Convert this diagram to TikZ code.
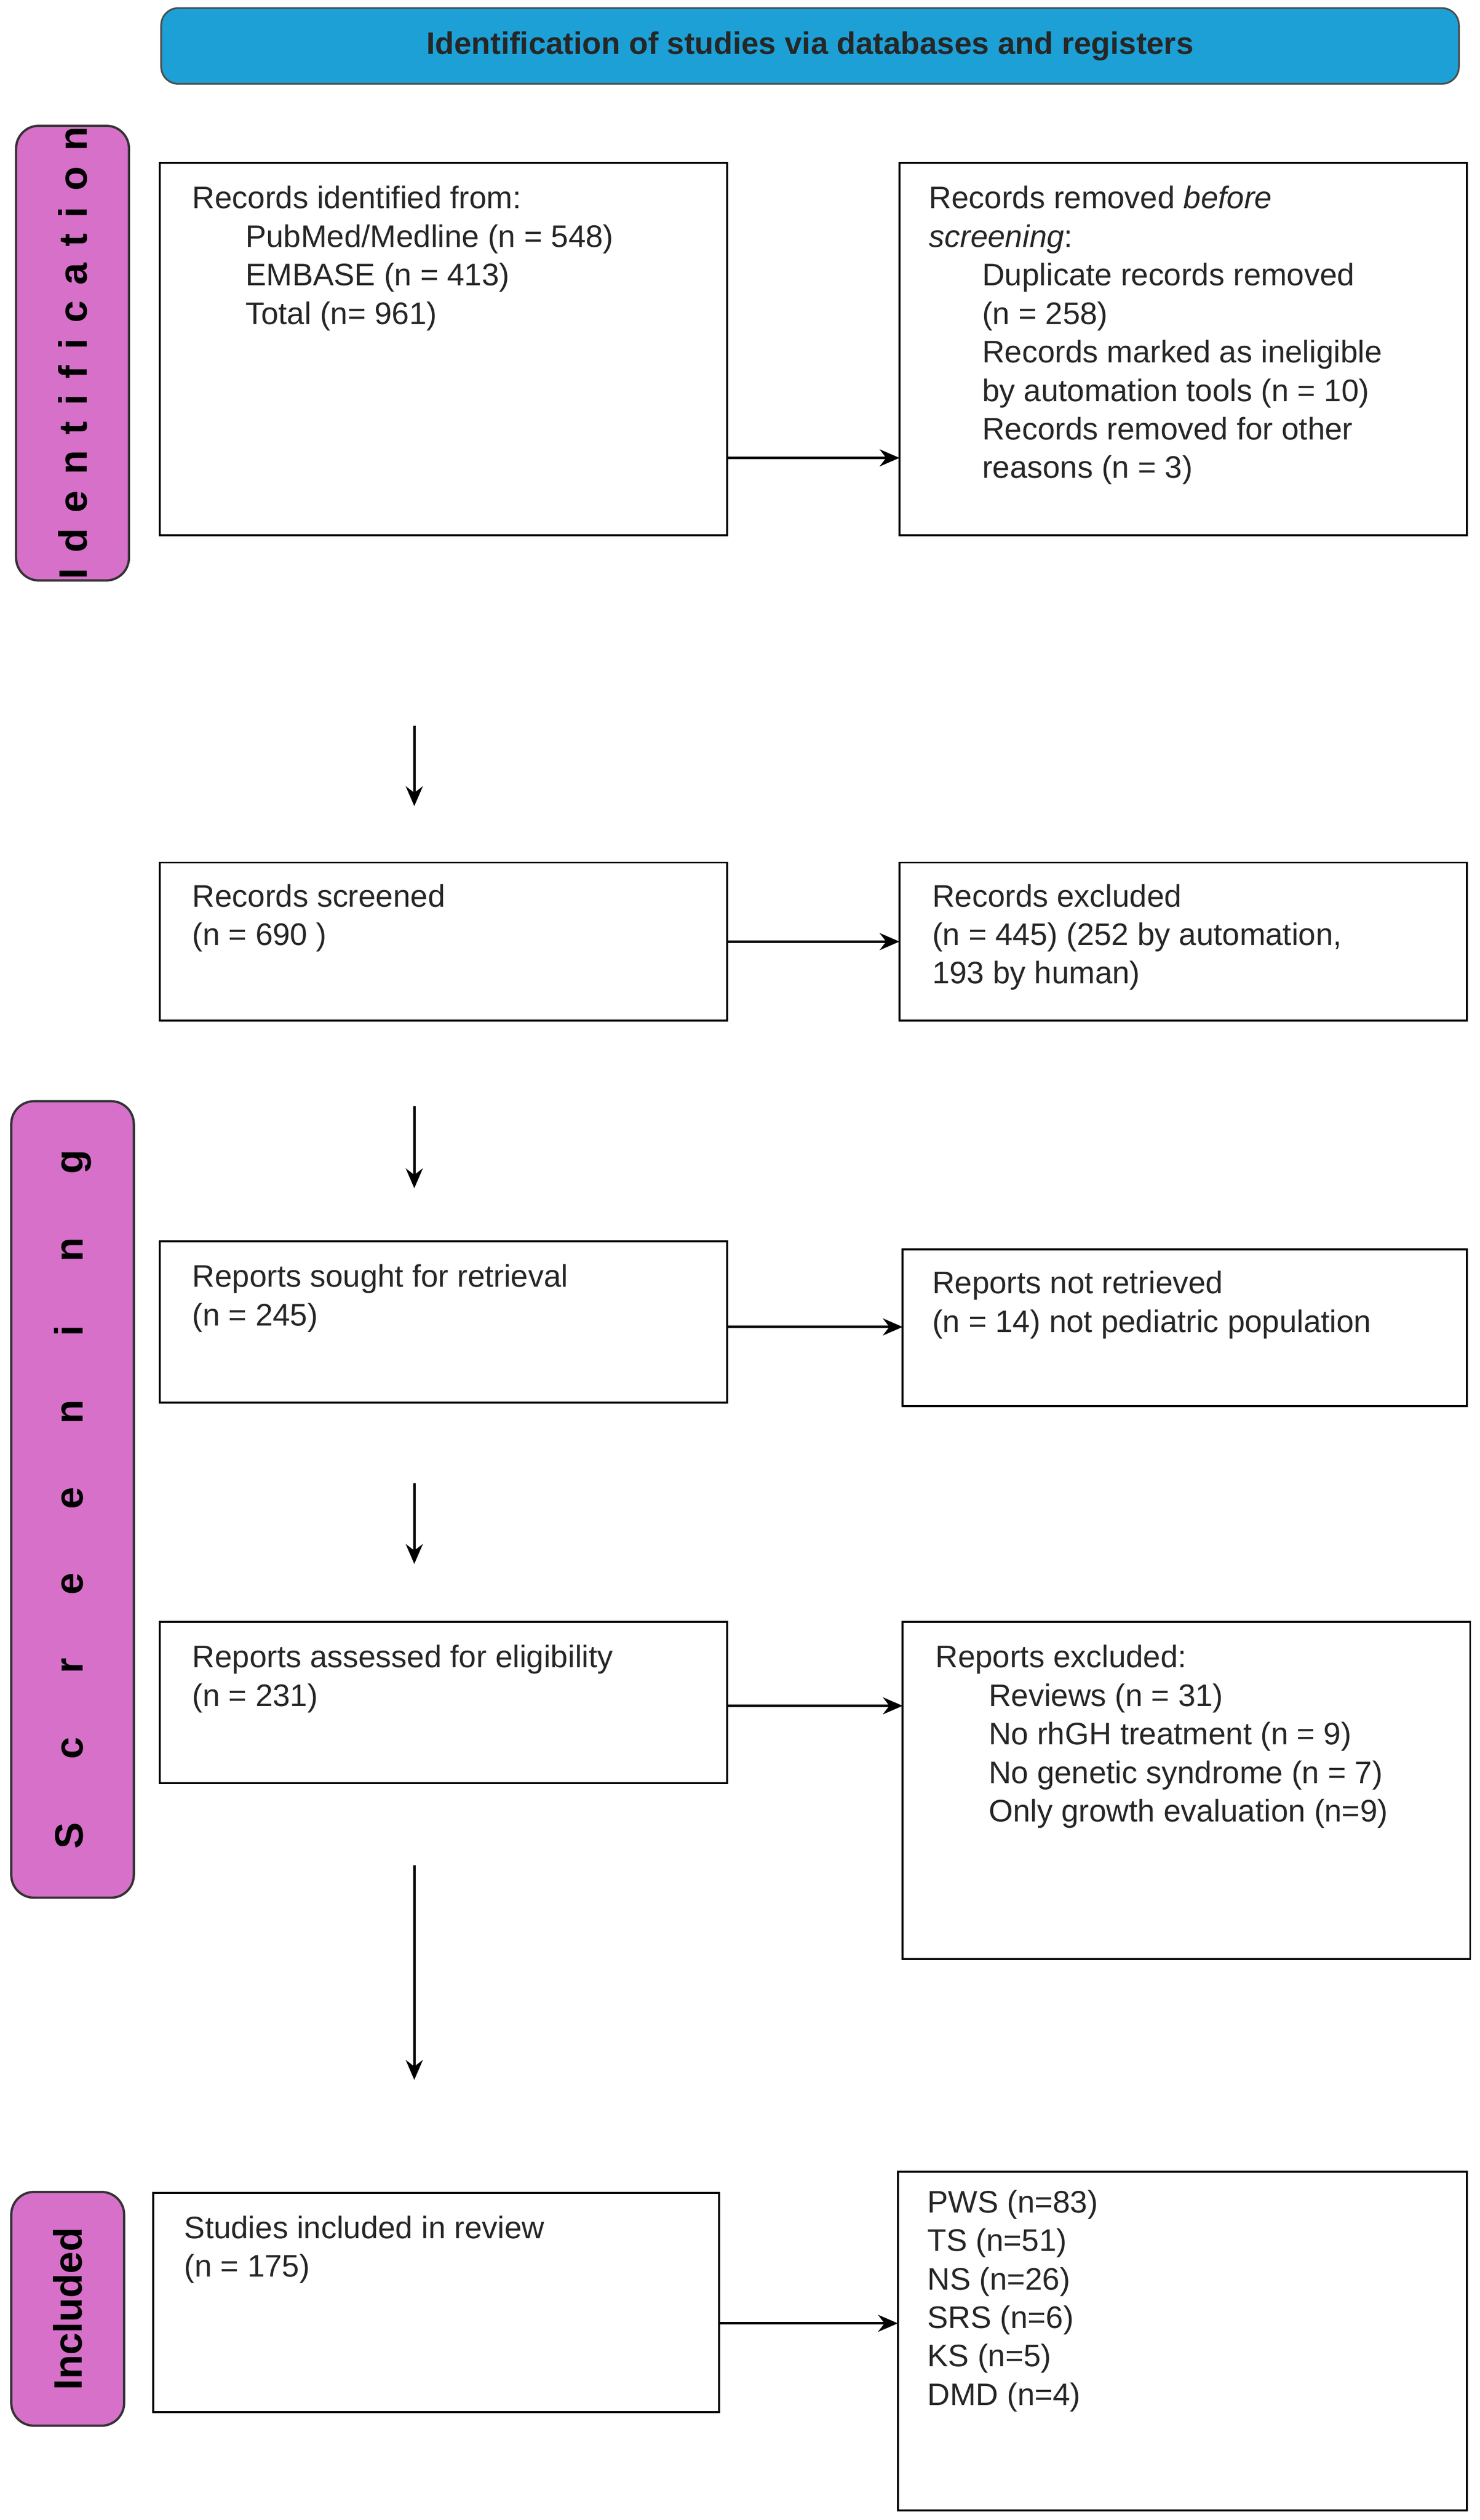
\documentclass[tikz,border=0pt]{standalone}
\usepackage{fontspec}
\setmainfont{Liberation Sans}
\usetikzlibrary{arrows.meta}
\definecolor{pinkside}{HTML}{D670C9}
\definecolor{bluebar}{HTML}{1CA0D6}
\newcommand{\ind}{\hspace*{0.66cm}}
\newcommand{\bx}[5]{\node[box,minimum width={(#4-#2)*0.02cm},minimum height={(#5-#3)*0.02cm}] (#1) at ({(#2+#4)/2},{(#3+#5)/2}) {};}
\begin{document}
\begin{tikzpicture}[x=0.02cm,y=-0.02cm,
  box/.style={draw=black,line width=0.7pt,inner sep=0pt,outer sep=0pt},
  txt/.style={anchor=north west,align=left,inner sep=0pt,font=\fontsize{11}{13.6}\selectfont,text=black!85},
  side/.style={draw=black!80,line width=0.8pt,fill=pinkside,rounded corners=8pt,inner sep=0pt},
  arr/.style={-{Stealth[length=7pt,width=6pt]},line width=0.9pt}]
\useasboundingbox (0,0) rectangle (918,1563);
% banner
\node[draw=black!70,line width=0.6pt,fill=bluebar,rounded corners=6pt,minimum width={805*0.02cm},minimum height={47*0.02cm},font=\bfseries\fontsize{11}{13}\selectfont,text=black!85] (ban) at (502.5,28.5) {Identification of studies via databases and registers};
% side labels
\node[side,minimum width={70*0.02cm},minimum height={282*0.02cm}] (sid) at (45,219) {};
\node[rotate=90,font=\bfseries\fontsize{14}{16}\selectfont\addfontfeature{LetterSpace=40}] (sidt) at (sid.center) {Identification};
\node[side,minimum width={76*0.02cm},minimum height={494*0.02cm}] (ssc) at (45,930) {};
\node[rotate=90,font=\bfseries\fontsize{14}{16}\selectfont\addfontfeature{LetterSpace=160}] (ssct) at (ssc.center) {Screening};
\node[side,minimum width={70*0.02cm},minimum height={145*0.02cm}] (sin) at (42,1432) {};
\node[rotate=90,font=\bfseries\fontsize{14}{16}\selectfont] (sint) at (sin.center) {Included};
% boxes
\bx{b1}{99}{101}{451}{332}
\bx{b2}{558}{101}{910}{332}
\bx{b3}{99}{535}{451}{633}
\bx{b4}{558}{535}{910}{633}
\bx{b5}{99}{770}{451}{870}
\bx{b6}{560}{775}{910}{872}
\bx{b7}{99}{1006}{451}{1106}
\bx{b8}{560}{1006}{912}{1215}
\bx{b9}{95}{1360}{446}{1496}
\bx{b10}{557}{1347}{910}{1557}
% texts
\node[txt] (t1) at (119,115) {Records identified from:\\\ind PubMed/Medline (n = 548)\\\ind EMBASE (n = 413)\\\ind Total (n= 961)};
\node[txt] (t2) at (576,115) {Records removed \textit{before}\\\textit{screening}:\\\ind Duplicate records removed\\\ind (n = 258)\\\ind Records marked as ineligible\\\ind by automation tools (n = 10)\\\ind Records removed for other\\\ind reasons (n = 3)};
\node[txt] (t3) at (119,548) {Records screened\\(n = 690 )};
\node[txt] (t4) at (578,548) {Records excluded\\(n = 445) (252 by automation,\\193 by human)};
\node[txt] (t5) at (119,784) {Reports sought for retrieval\\(n = 245)};
\node[txt] (t6) at (578,788) {Reports not retrieved\\(n = 14) not pediatric population};
\node[txt] (t7) at (119,1020) {Reports assessed for eligibility\\(n = 231)};
\node[txt] (t8) at (580,1020) {Reports excluded:\\\ind Reviews (n = 31)\\\ind No rhGH treatment (n = 9)\\\ind No genetic syndrome (n = 7)\\\ind Only growth evaluation (n=9)};
\node[txt] (t9) at (114,1374) {Studies included in review\\(n = 175)};
\node[txt] (t10) at (575,1358) {PWS (n=83)\\TS (n=51)\\NS (n=26)\\SRS (n=6)\\KS (n=5)\\DMD (n=4)};
% horizontal arrows
\draw[arr] ([yshift=-1.35cm]b1.east) coordinate (h1) -- (h1 -| b2.west);
\draw[arr] (b3.east) coordinate (h2) -- (h2 -| b4.west);
\draw[arr] ([yshift=-0.06cm]b5.east) coordinate (h3) -- (h3 -| b6.west);
\draw[arr] ([yshift=-0.04cm]b7.east) coordinate (h4) -- (h4 -| b8.west);
\draw[arr] ([yshift=-0.26cm]b9.east) coordinate (h5) -- (h5 -| b10.west);
% vertical arrows
\coordinate (v1a) at (257,450); \coordinate (v1b) at (257,500);
\coordinate (v2a) at (257,686); \coordinate (v2b) at (257,737);
\coordinate (v3a) at (257,920); \coordinate (v3b) at (257,970);
\coordinate (v4a) at (257,1157); \coordinate (v4b) at (257,1290);
\draw[arr] (v1a) -- (v1b);
\draw[arr] (v2a) -- (v2b);
\draw[arr] (v3a) -- (v3b);
\draw[arr] (v4a) -- (v4b);
\end{tikzpicture}
\end{document}
